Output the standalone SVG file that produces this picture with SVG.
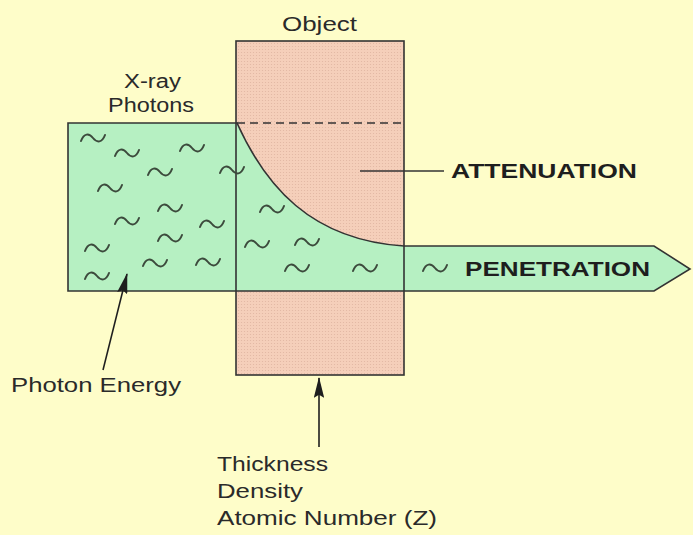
<svg xmlns="http://www.w3.org/2000/svg" width="693" height="535" viewBox="0 0 693 535">
<style>
.lbl{font-family:"Liberation Sans",Arial,sans-serif;font-size:20px;fill:#2a2a2a}
.bold{font-family:"Liberation Sans",Arial,sans-serif;font-size:20px;font-weight:bold;fill:#1e1e1e}
.edge{fill:none;stroke:#333;stroke-width:1.6}
.wave{fill:none;stroke:#3c4a3c;stroke-width:2;stroke-linecap:round}
</style>
<defs>
<pattern id="dots" width="3" height="3" patternUnits="userSpaceOnUse">
<rect width="3" height="3" fill="#f5cfba"/>
<circle cx="1.5" cy="1.5" r="0.6" fill="#e0b5a2"/>
</pattern>
<path id="w" d="M-12,3 C-9,-5 -4,-5 0,0 S9,5 12,-3" class="wave"/>
<marker id="ah" viewBox="0 0 20 10" refX="19" refY="5" markerWidth="13" markerHeight="6.5" markerUnits="strokeWidth" orient="auto">
<path d="M0,0 L20,5 L0,10 L3,5 Z" fill="#1e1e1e"/>
</marker>
</defs>
<rect width="693" height="535" fill="#fefdc9"/>

<g id="object">
<rect x="236" y="41" width="168" height="334" fill="url(#dots)"/>
</g>

<g id="beam">
<path d="M68,123 L237,123 C265,185 310,240 404,246 L654,246 L690,269 L654,291 L68,291 Z" fill="#b6f0c2"/>
<path d="M68,123 L237,123 C265,185 310,240 404,246 L654,246 L690,269 L654,291 L68,291 Z" class="edge"/>
</g>

<g id="object-outline">
<rect x="236" y="41" width="168" height="334" class="edge"/>
<line x1="237" y1="123" x2="404" y2="123" stroke="#333" stroke-width="1.6" stroke-dasharray="8,5"/>
</g>

<g id="photons">
<use href="#w" x="93" y="138"/>
<use href="#w" x="127" y="153"/>
<use href="#w" x="192" y="148"/>
<use href="#w" x="160" y="172"/>
<use href="#w" x="232" y="170"/>
<use href="#w" x="110" y="188"/>
<use href="#w" x="170" y="208"/>
<use href="#w" x="127" y="221"/>
<use href="#w" x="212" y="224"/>
<use href="#w" x="170" y="238"/>
<use href="#w" x="97" y="248"/>
<use href="#w" x="155" y="263"/>
<use href="#w" x="208" y="262"/>
<use href="#w" x="97" y="276"/>
<use href="#w" x="272" y="209"/>
<use href="#w" x="257" y="244"/>
<use href="#w" x="307" y="242"/>
<use href="#w" x="297" y="268"/>
<use href="#w" x="365" y="268"/>
<use href="#w" x="435" y="268"/>
</g>

<g id="labels">
<text class="lbl" x="282" y="31" textLength="75" lengthAdjust="spacingAndGlyphs">Object</text>
<text class="lbl" x="124" y="88" textLength="57" lengthAdjust="spacingAndGlyphs">X-ray</text>
<text class="lbl" x="108" y="112" textLength="86" lengthAdjust="spacingAndGlyphs">Photons</text>
<text class="bold" x="451" y="178" textLength="186" lengthAdjust="spacingAndGlyphs">ATTENUATION</text>
<text class="bold" x="465" y="276" textLength="185" lengthAdjust="spacingAndGlyphs">PENETRATION</text>
<text class="lbl" x="11" y="392" textLength="170" lengthAdjust="spacingAndGlyphs">Photon Energy</text>
<text class="lbl" x="217" y="471" textLength="111" lengthAdjust="spacingAndGlyphs">Thickness</text>
<text class="lbl" x="217" y="498" textLength="86" lengthAdjust="spacingAndGlyphs">Density</text>
<text class="lbl" x="217" y="525" textLength="220" lengthAdjust="spacingAndGlyphs">Atomic Number (Z)</text>
</g>

<g id="connectors">
<line x1="360" y1="171" x2="444" y2="171" stroke="#333" stroke-width="1.4"/>
<line x1="103" y1="370" x2="127" y2="274" stroke="#1e1e1e" stroke-width="1.6" marker-end="url(#ah)"/>
<line x1="319" y1="447" x2="319" y2="378" stroke="#1e1e1e" stroke-width="1.6" marker-end="url(#ah)"/>
</g>
</svg>
